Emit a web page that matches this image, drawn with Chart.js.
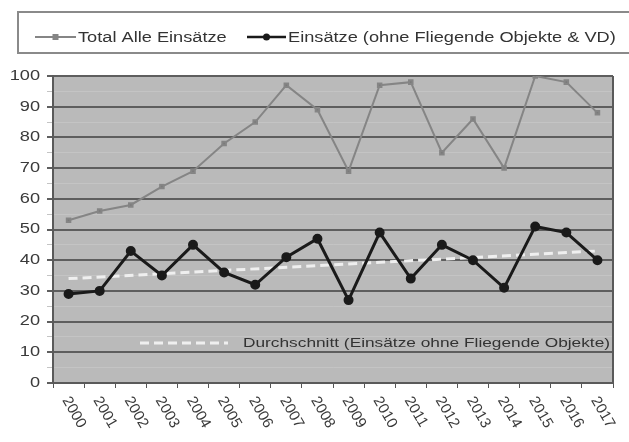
<!DOCTYPE html>
<html>
<head>
<meta charset="utf-8">
<script src="https://cdn.jsdelivr.net/npm/chart.js@4.4.1/dist/chart.umd.min.js"></script>
<style>
  html, body { margin: 0; padding: 0; background: #fff; }
  #wrap { width: 629px; height: 442px; }
</style>
</head>
<body>
<div id="wrap"><canvas id="chart"></canvas></div>
<script>
const years = ['2000','2001','2002','2003','2004','2005','2006','2007','2008',
  '2009','2010','2011','2012','2013','2014','2015','2016','2017'];
const totalAlle = [53,56,58,64,69,78,85,97,89,69,97,98,75,86,70,100,98,88];
const einsaetze = [29,30,43,35,45,36,32,41,47,27,49,34,45,40,31,51,49,40];
// trend line: only the two end values
const durchschnitt = [34,null,null,null,null,null,null,null,null,
  null,null,null,null,null,null,null,null,43];
const yTicks = [0,10,20,30,40,50,60,70,80,90,100];
const legendLabels = ['Total Alle Einsätze', 'Einsätze (ohne Fliegende Objekte & VD)'];
const avgLabel = 'Durchschnitt (Einsätze ohne Fliegende Objekte)';

const SX = 1.3; // the scan is stretched horizontally
const FONT = '"Liberation Sans", Arial, sans-serif';
const GRAY = '#858585';
const BLACK = '#1a1a1a';

function stretchedText(ctx, txt, x, y, align) {
  ctx.save();
  ctx.translate(x, y);
  ctx.scale(SX, 1);
  ctx.textAlign = align;
  ctx.textBaseline = 'middle';
  ctx.fillText(txt, 0, 0);
  ctx.restore();
}

function sampleLine(ctx, x1, x2, y, color, width, marker) {
  ctx.save();
  ctx.strokeStyle = color;
  ctx.lineWidth = width;
  ctx.beginPath();
  ctx.moveTo(x1, y);
  ctx.lineTo(x2, y);
  ctx.stroke();
  ctx.fillStyle = color;
  const mx = (x1 + x2) / 2;
  if (marker === 'rect') {
    ctx.fillRect(mx - 3, y - 3, 6, 6);
  } else {
    ctx.beginPath();
    ctx.arc(mx, y, 3.5, 0, Math.PI * 2);
    ctx.fill();
  }
  ctx.restore();
}

const decor = {
  id: 'decor',
  beforeDraw(chart) {
    const { ctx, chartArea: a } = chart;
    ctx.save();
    ctx.fillStyle = '#bababa';
    ctx.fillRect(a.left, a.top, a.right - a.left, a.bottom - a.top);
    ctx.restore();
  },
  beforeDatasetsDraw(chart) {
    const { ctx, chartArea: a } = chart;
    ctx.save();
    ctx.strokeStyle = '#5a5a5a';
    ctx.lineWidth = 2;
    ctx.beginPath();
    ctx.moveTo(a.right, a.top);
    ctx.lineTo(a.right, a.bottom);
    ctx.stroke();
    ctx.restore();
  },
  afterDraw(chart) {
    const { ctx } = chart;
    const xs = chart.scales.x, ys = chart.scales.y;

    // top legend box
    ctx.save();
    ctx.strokeStyle = '#8a8a8a';
    ctx.lineWidth = 2;
    ctx.strokeRect(18, 12, 650, 41);
    ctx.restore();
    sampleLine(ctx, 35, 76, 37, GRAY, 2, 'rect');
    sampleLine(ctx, 247, 286, 37, BLACK, 2.5, 'circle');
    ctx.fillStyle = '#333';
    ctx.font = '14px ' + FONT;
    stretchedText(ctx, legendLabels[0], 78, 38, 'left');
    stretchedText(ctx, legendLabels[1], 288, 38, 'left');

    // y tick labels
    ctx.fillStyle = '#3a3a3a';
    ctx.font = '14px ' + FONT;
    yTicks.forEach(v => stretchedText(ctx, String(v), 40, ys.getPixelForValue(v), 'right'));

    // x tick labels, rotated downwards
    ctx.font = '15px ' + FONT;
    years.forEach((yr, i) => {
      const x = xs.getPixelForValue(i);
      ctx.save();
      ctx.translate(x - 3, xs.top + 15);
      ctx.rotate(60 * Math.PI / 180);
      ctx.textAlign = 'left';
      ctx.textBaseline = 'middle';
      ctx.fillText(yr, 0, 0);
      ctx.restore();
    });

    // legend for the average line inside the plot
    ctx.save();
    ctx.strokeStyle = '#efefef';
    ctx.lineWidth = 3;
    ctx.setLineDash([9, 5]);
    ctx.beginPath();
    ctx.moveTo(140, 343);
    ctx.lineTo(228, 343);
    ctx.stroke();
    ctx.restore();
    ctx.fillStyle = '#333';
    ctx.font = '13.3px ' + FONT;
    stretchedText(ctx, avgLabel, 243, 343, 'left');
  }
};

new Chart(document.getElementById('chart'), {
  type: 'line',
  data: {
    labels: years,
    datasets: [
      {
        label: legendLabels[0],
        data: totalAlle,
        borderColor: GRAY,
        backgroundColor: '#7a7a7a',
        borderWidth: 2,
        pointStyle: 'rect',
        pointRadius: 2.5,
        tension: 0
      },
      {
        label: legendLabels[1],
        data: einsaetze,
        borderColor: BLACK,
        backgroundColor: BLACK,
        borderWidth: 3,
        pointStyle: 'circle',
        pointRadius: 3.5,
        tension: 0
      },
      {
        label: avgLabel,
        data: durchschnitt,
        borderColor: '#efefef',
        borderWidth: 3,
        borderDash: [9, 5],
        pointRadius: 0,
        spanGaps: true
      }
    ]
  },
  options: {
    responsive: true,
    maintainAspectRatio: false,
    animation: false,
    layout: { padding: { top: 76, right: 16, left: 0, bottom: 0 } },
    plugins: { legend: { display: false }, tooltip: { enabled: false } },
    scales: {
      x: {
        offset: true,
        ticks: { display: false },
        grid: { drawOnChartArea: false, offset: true, color: '#555', tickLength: 5 },
        border: { color: '#5a5a5a', width: 2 },
        afterFit: s => { s.height = 59; }
      },
      y: {
        min: 0,
        max: 100,
        ticks: { display: false, stepSize: 5 },
        grid: {
          color: c => c.tick.value % 10 === 0 ? '#5e5e5e' : '#c4c4c4',
          lineWidth: c => c.tick.value % 10 === 0 ? 2 : 1,
          tickLength: 6
        },
        border: { color: '#5a5a5a', width: 2 },
        afterFit: s => { s.width = 53; }
      }
    }
  },
  plugins: [decor]
});
</script>
</body>
</html>
